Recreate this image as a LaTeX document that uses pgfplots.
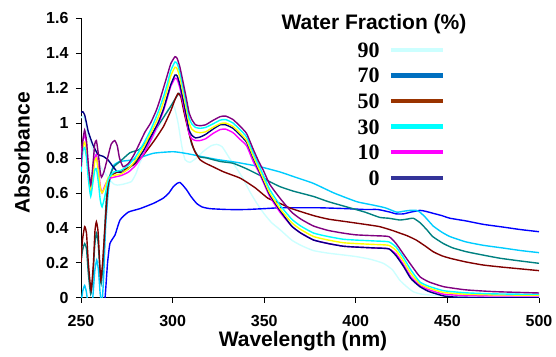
\documentclass[border=0pt]{standalone}
\usepackage{pgfplots}
\pgfplotsset{compat=1.18}
\usepackage{fontspec}
\setmainfont{Liberation Sans}
\newfontfamily\serifnum{Liberation Serif}
\definecolor{cPurple}{HTML}{800080}
\definecolor{cCyan}{HTML}{00FFFF}
\definecolor{cYellow}{HTML}{FFFF00}
\definecolor{cNavy}{HTML}{000080}
\definecolor{cMag}{HTML}{FF00FF}
\definecolor{cMaroon}{HTML}{800000}
\definecolor{cTeal}{HTML}{008080}
\definecolor{cLCyan}{HTML}{CCFFFF}
\definecolor{cSky}{HTML}{00CCFF}
\definecolor{cBlue}{HTML}{0000FF}
\definecolor{lg90}{HTML}{CCFFFF}
\definecolor{lg70}{HTML}{0070C0}
\definecolor{lg50}{HTML}{993300}
\definecolor{lg30}{HTML}{00FFFF}
\definecolor{lg10}{HTML}{FF00FF}
\definecolor{lg0}{HTML}{333399}
\begin{document}
\begin{tikzpicture}[x=1pt,y=1pt]
\path[use as bounding box] (0,0) rectangle (556,356);
\begin{axis}[
  at={(81pt,58.3pt)}, anchor=south west,
  scale only axis, width=458pt, height=279.4pt,
  xmin=250, xmax=500, ymin=0, ymax=1.6,
  axis lines*=left,
  axis line style={black, line width=0.8pt, -},
  xtick={250,300,350,400,450,500},
  xticklabels={250,300,350,400,450,500},
  ytick={0,0.2,0.4,0.6,0.8,1,1.2,1.4,1.6},
  yticklabels={0,0.2,0.4,0.6,0.8,1,1.2,1.4,1.6},
  tick align=outside, major tick length=5pt,
  tick style={black, line width=0.8pt},
  ticklabel style={font=\fontsize{16}{16}\selectfont\bfseries},
  xticklabel style={yshift=-9pt},
  yticklabel style={xshift=-4pt},
  clip=true,
  every axis plot/.append style={line width=1.4pt, smooth, tension=0.3},
  legend plot pos=right,
  legend cell align=right,
  legend image code/.code={\draw[#1, line width=4.5pt] (0pt,0pt) -- (52pt,0pt);},
  legend style={at={(axis description cs:0.597,0.922)}, anchor=north west,
    draw=none, fill=none, row sep=10.6pt,
    /tikz/every odd column/.append style={column sep=9pt},
    nodes={font=\fontsize{22}{22}\selectfont\serifnum\bfseries, inner sep=0pt, text height=15pt, text depth=0pt}},
]
% 90 light cyan
\addplot[cLCyan, forget plot] coordinates {
(250,1.03)(251,1.04)(252,1.02)(253,0.97)(254,0.92)(256,0.86)(258,0.80)(260,0.76)(262,0.73)(264,0.70)(266,0.67)(268,0.65)(270,0.645)(273,0.65)(277.5,0.665)(280,0.71)(282,0.77)(285,0.83)(288,0.89)(291,0.95)(294,1.01)(297,1.07)(299.5,1.10)(301,1.09)(303,1.0)(305,0.87)(306.8,0.79)(309.5,0.775)(313,0.80)(317,0.84)(321,0.87)(324,0.878)(327,0.865)(331,0.80)(335,0.74)(338.6,0.68)(342,0.61)(346,0.54)(350,0.48)(354,0.43)(358.6,0.39)(365,0.33)(370,0.30)(376.8,0.27)(385,0.255)(393,0.245)(400.5,0.235)(408,0.22)(415,0.197)(420,0.16)(424,0.10)(427.8,0.063)(431.4,0.034)(436,0.02)(445,0.012)(460,0.008)(480,0.005)(500,0.005)};
% blue (0.65 peak)
\addplot[cBlue, forget plot] coordinates {
(262.8,-0.05)(263.5,0.05)(264.5,0.2)(265.8,0.31)(268.6,0.36)(271.3,0.445)(275.8,0.49)(282.2,0.51)(289.5,0.54)(294.9,0.57)(298,0.60)(300.4,0.636)(302.5,0.655)(304,0.66)(305.5,0.645)(307.7,0.617)(310,0.58)(313.1,0.54)(316,0.52)(320.4,0.51)(330,0.505)(340,0.505)(350,0.51)(358.6,0.515)(370,0.515)(380,0.515)(395,0.51)(405,0.505)(412,0.505)(418.7,0.49)(422,0.48)(426,0.48)(430,0.49)(435,0.50)(438,0.495)(442.3,0.483)(447,0.47)(451.4,0.455)(460,0.44)(469.6,0.42)(480,0.405)(490,0.39)(500,0.378)};
% deep sky blue (broad)
\addplot[cSky, forget plot] coordinates {
(250,-0.03)(251,0.04)(252,0.07)(253,0.03)(254,-0.05)(256,-0.05)(257.5,0.15)(258.6,0.216)(259.5,0.16)(260.5,0.02)(261.5,-0.03)(262.5,0.15)(263.5,0.42)(265,0.62)(266.5,0.72)(268,0.76)(271.3,0.78)(278.5,0.79)(289.5,0.827)(300.4,0.836)(308,0.825)(315,0.81)(325,0.79)(335,0.775)(347.7,0.75)(358.6,0.72)(367,0.69)(376.8,0.655)(388,0.60)(400.5,0.55)(409.6,0.53)(416,0.515)(422.3,0.49)(426,0.495)(429.6,0.50)(433,0.50)(435,0.49)(438,0.46)(442.3,0.41)(447,0.375)(451.4,0.35)(460,0.32)(469.6,0.30)(480,0.285)(490,0.27)(500,0.258)};
% teal
\addplot[cTeal, forget plot] coordinates {
(250,0.20)(250.8,0.27)(252,0.31)(253,0.28)(254,0.14)(255.3,0.02)(256.5,0.12)(257.5,0.30)(258.4,0.37)(259.3,0.32)(260.2,0.18)(261,0.08)(262,0.20)(263.8,0.56)(265.5,0.69)(268,0.75)(271.3,0.78)(276.7,0.83)(282,0.85)(287.7,0.92)(293,1.0)(298.6,1.09)(301.5,1.14)(303.5,1.17)(305,1.15)(307,1.05)(310.4,0.88)(314,0.81)(318.6,0.80)(326,0.78)(333,0.77)(340,0.74)(347.7,0.70)(352,0.67)(358.6,0.636)(366,0.61)(376.8,0.58)(385,0.55)(395,0.52)(405,0.49)(413,0.46)(418,0.455)(424,0.445)(428,0.45)(431.4,0.455)(435,0.43)(438.7,0.39)(442,0.35)(447.8,0.31)(453,0.285)(460.5,0.263)(470,0.243)(478.7,0.226)(490,0.21)(500,0.197)};
% maroon (50)
\addplot[cMaroon, forget plot] coordinates {
(250,0.20)(250.8,0.33)(252,0.407)(253,0.37)(254,0.20)(255.5,0.04)(256.8,0.20)(257.6,0.38)(258.4,0.435)(259.3,0.38)(260.2,0.20)(260.8,0.10)(261.8,0.20)(263,0.39)(264.7,0.64)(266.5,0.70)(270,0.72)(275,0.74)(280,0.77)(285,0.83)(290,0.90)(295,0.98)(299,1.07)(301.5,1.14)(303,1.17)(304.5,1.15)(306.5,1.05)(309.5,0.92)(312,0.84)(315,0.79)(318,0.77)(322,0.75)(328,0.72)(337,0.684)(345,0.63)(352,0.57)(358.6,0.54)(365,0.51)(377,0.47)(385,0.45)(395,0.435)(405,0.42)(413,0.407)(420,0.385)(424,0.37)(428,0.355)(433,0.33)(438,0.295)(442.3,0.263)(447,0.24)(451.4,0.226)(460,0.205)(469.6,0.187)(480,0.175)(490,0.165)(500,0.155)};
% magenta (10)
\addplot[cMag, forget plot] coordinates {
(250,0.80)(251,0.90)(252,0.93)(253,0.88)(254,0.74)(255.3,0.60)(256.5,0.70)(257.5,0.80)(258.4,0.82)(259.5,0.74)(260.5,0.64)(261.5,0.60)(263,0.64)(265,0.68)(268,0.69)(272,0.70)(276,0.72)(280,0.76)(284,0.82)(288,0.90)(292,0.99)(295,1.07)(297,1.14)(299,1.21)(301.3,1.257)(302.5,1.25)(304,1.20)(306,1.10)(307.7,1.01)(309,0.94)(310.5,0.91)(312.5,0.90)(315,0.90)(318,0.91)(322,0.94)(326,0.963)(329,0.965)(333,0.945)(337,0.905)(340.4,0.87)(344,0.78)(347,0.72)(350,0.65)(353,0.58)(358.6,0.49)(365,0.41)(370,0.37)(377,0.33)(385,0.31)(393,0.295)(400,0.29)(410,0.285)(418,0.28)(422,0.25)(426,0.19)(430,0.12)(435,0.07)(440,0.045)(448,0.02)(460,0.012)(475,0.01)(490,0.01)(500,0.01)};
% navy (0)
\addplot[cNavy, forget plot] coordinates {
(250,1.06)(251,1.065)(252,1.046)(253,1.0)(254,0.95)(256.5,0.875)(259.3,0.82)(262,0.81)(264.7,0.79)(267.5,0.75)(270,0.72)(273,0.72)(276,0.74)(280,0.78)(284,0.84)(288,0.92)(292,1.0)(295,1.08)(297,1.15)(299,1.22)(301.3,1.275)(302.5,1.27)(304,1.22)(306,1.12)(307.7,1.03)(309,0.96)(310.5,0.93)(312.5,0.915)(315,0.92)(318,0.935)(322,0.965)(326,0.99)(329,0.99)(333,0.97)(337,0.93)(340.4,0.89)(344,0.80)(347,0.73)(350,0.66)(353,0.59)(358.6,0.50)(365,0.41)(370,0.37)(377,0.33)(385,0.31)(393,0.295)(400,0.29)(410,0.285)(418,0.28)(422,0.24)(426,0.18)(430,0.11)(435,0.063)(440,0.035)(448,0.01)(455,0.003)(470,0.0)(500,0.0)};
% yellow
\addplot[cYellow, forget plot] coordinates {
(250,0.74)(251,0.86)(252,0.89)(253,0.84)(254,0.72)(255.3,0.62)(256.5,0.70)(257.5,0.78)(258.4,0.80)(259.5,0.72)(260.5,0.63)(261.5,0.60)(263,0.63)(265,0.69)(268,0.70)(272,0.71)(276,0.74)(280,0.79)(284,0.86)(288,0.94)(292,1.03)(295,1.12)(297,1.19)(299,1.27)(301.3,1.32)(302.5,1.31)(304,1.26)(306,1.16)(307.7,1.07)(309,1.0)(310.5,0.965)(312.5,0.95)(315,0.945)(318,0.95)(322,0.975)(326,0.997)(329,1.0)(333,0.98)(337,0.94)(340.4,0.90)(344,0.81)(347,0.74)(350,0.67)(353,0.60)(358.6,0.51)(365,0.43)(370,0.39)(377,0.35)(385,0.33)(393,0.315)(400,0.31)(410,0.305)(418,0.30)(422,0.27)(426,0.21)(430,0.14)(435,0.08)(440,0.055)(448,0.03)(460,0.02)(475,0.016)(490,0.015)(500,0.015)};
% cyan (30)
\addplot[cCyan, forget plot] coordinates {
(250,0.72)(251,0.84)(252,0.86)(253,0.80)(254,0.68)(255.3,0.58)(256.5,0.66)(257.5,0.73)(258.4,0.74)(259.5,0.66)(260.5,0.56)(261.5,0.52)(263,0.58)(265,0.68)(268,0.72)(272,0.73)(276,0.76)(280,0.81)(284,0.88)(288,0.96)(292,1.06)(295,1.15)(297,1.22)(299,1.30)(301.3,1.35)(302.5,1.34)(304,1.29)(306,1.19)(307.7,1.10)(309,1.03)(310.5,0.995)(312.5,0.975)(315,0.97)(318,0.975)(322,0.995)(326,1.017)(329,1.02)(333,1.0)(337,0.96)(340.4,0.92)(344,0.83)(347,0.76)(350,0.69)(353,0.62)(358.6,0.53)(365,0.45)(370,0.41)(377,0.37)(385,0.35)(393,0.335)(400,0.33)(410,0.325)(418,0.32)(422,0.29)(426,0.23)(430,0.16)(435,0.09)(440,0.065)(448,0.04)(460,0.028)(475,0.022)(490,0.02)(500,0.02)};
% purple
\addplot[cPurple, forget plot] coordinates {
(250,0.75)(251,0.90)(252,0.96)(253,0.90)(254,0.76)(255.3,0.645)(256.5,0.76)(257.5,0.88)(258.4,0.90)(259.5,0.82)(260.5,0.72)(261.2,0.69)(262.5,0.72)(264.5,0.80)(266.5,0.88)(268.4,0.90)(269.8,0.87)(271,0.80)(273,0.75)(276,0.77)(279,0.82)(282,0.885)(285,0.95)(288,1.0)(291,1.07)(293,1.13)(295,1.20)(297,1.27)(299,1.34)(301.3,1.38)(302.5,1.37)(304,1.32)(306,1.22)(307.7,1.13)(309,1.06)(310.5,1.02)(312.5,0.99)(315,0.985)(318,0.99)(322,1.015)(326,1.037)(329,1.04)(333,1.02)(337,0.98)(340.4,0.94)(344,0.85)(347,0.78)(349.5,0.73)(353,0.65)(358.6,0.57)(365,0.49)(370,0.45)(377,0.41)(385,0.385)(393,0.37)(400,0.36)(410,0.355)(418,0.35)(422,0.31)(426,0.25)(430,0.19)(435,0.12)(440,0.09)(448,0.063)(460,0.045)(475,0.035)(490,0.03)(500,0.027)};
\addlegendimage{lg90}\addlegendentry{90}
\addlegendimage{lg70}\addlegendentry{70}
\addlegendimage{lg50}\addlegendentry{50}
\addlegendimage{lg30}\addlegendentry{30}
\addlegendimage{lg10}\addlegendentry{10}
\addlegendimage{lg0}\addlegendentry{0}
\end{axis}
\node[font=\fontsize{21}{21}\selectfont\bfseries] at (374pt,332pt) {Water Fraction (\%)};
\node[font=\fontsize{21}{21}\selectfont\bfseries] at (303pt,15pt) {Wavelength (nm)};
\node[font=\fontsize{21}{21}\selectfont\bfseries, rotate=90] at (22pt,203pt) {Absorbance};
\end{tikzpicture}
\end{document}
